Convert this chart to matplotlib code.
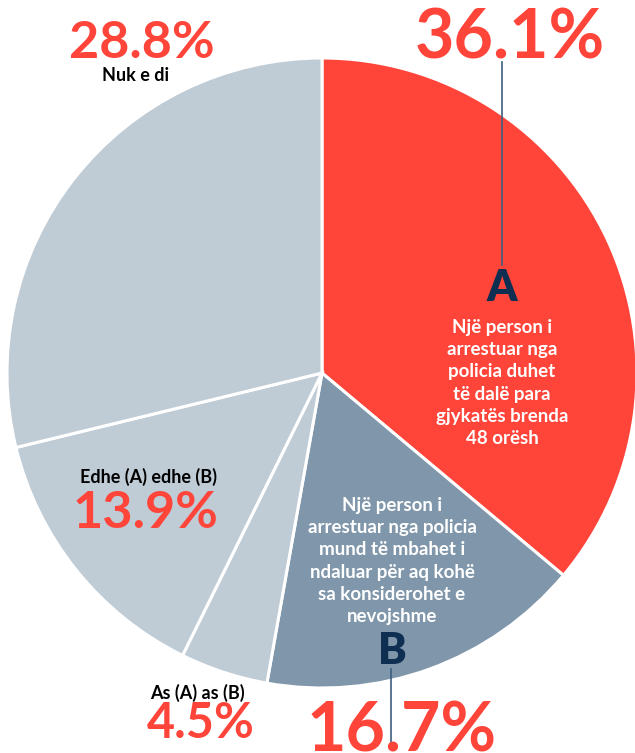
import matplotlib.pyplot as plt

# Data
labels = ["A", "B", "As (A) as (B)", "Edhe (A) edhe (B)", "Nuk e di"]
values = [36.1, 16.7, 4.5, 13.9, 28.8]
colors = ["#FF443A", "#8096AA", "#BFCBD5", "#BFCBD5", "#BFCBD5"]

text_a = "Një person i\narrestuar nga\npolicia duhet\ntë dalë para\ngjykatës brenda\n48 orësh"
text_b = "Një person i\narrestuar nga policia\nmund të mbahet i\nndaluar për aq kohë\nsa konsiderohet e\nnevojshme"

W, H = 635, 753
RED = "#FF443A"
NAVY = "#0E2F52"
plt.rcParams['font.family'] = ['Lato', 'DejaVu Sans']

fig = plt.figure(figsize=(W / 100, H / 100), dpi=100)
ax = fig.add_axes([0, 0, 1, 1])
ax.axis('off')

ax.pie(values, colors=colors, startangle=90, counterclock=False,
       center=(322, H - 373), radius=315,
       wedgeprops=dict(edgecolor='white', linewidth=2.2))
ax.set_xlim(0, W)
ax.set_ylim(0, H)
ax.set_aspect('equal')


def y(py):
    return H - py


# A
ax.plot([502, 502], [y(62), y(265)], color="#3F5F7F", lw=1.2)
ax.text(510, y(58), f"{values[0]}%", color=RED, fontsize=49, fontweight='bold',
        ha='center', va='baseline')
ax.text(502, y(288), labels[0], color=NAVY, fontsize=31, fontweight='heavy',
        ha='center', va='center')
ax.text(502, y(383), text_a, color='white', fontsize=13.5, fontweight='bold',
        ha='center', va='center', linespacing=1.38)

# B
ax.text(392, y(561), text_b, color='white', fontsize=13.5, fontweight='bold',
        ha='center', va='center', linespacing=1.38)
ax.text(392, y(651), labels[1], color=NAVY, fontsize=31, fontweight='heavy',
        ha='center', va='center')
ax.plot([391, 391], [y(669), y(742)], color="#3F5F7F", lw=1.2)
ax.text(402, y(751), f"{values[1]}%", color=RED, fontsize=49, fontweight='bold',
        ha='center', va='baseline', clip_on=False)

# others
ax.text(201, y(738), f"{values[2]}%", color=RED, fontsize=35, fontweight='bold',
        ha='center', va='baseline')
ax.text(197, y(693), labels[2], color='black', fontsize=13, fontweight='bold',
        ha='center', va='center')

ax.text(146, y(528), f"{values[3]}%", color=RED, fontsize=37.5, fontweight='bold',
        ha='center', va='baseline')
ax.text(148, y(477), labels[3], color='black', fontsize=13, fontweight='bold',
        ha='center', va='center')

ax.text(142, y(58), f"{values[4]}%", color=RED, fontsize=37.5, fontweight='bold',
        ha='center', va='baseline')
ax.text(136, y(75), labels[4], color='black', fontsize=13, fontweight='bold',
        ha='center', va='center')

fig.savefig("out.png", dpi=100)
